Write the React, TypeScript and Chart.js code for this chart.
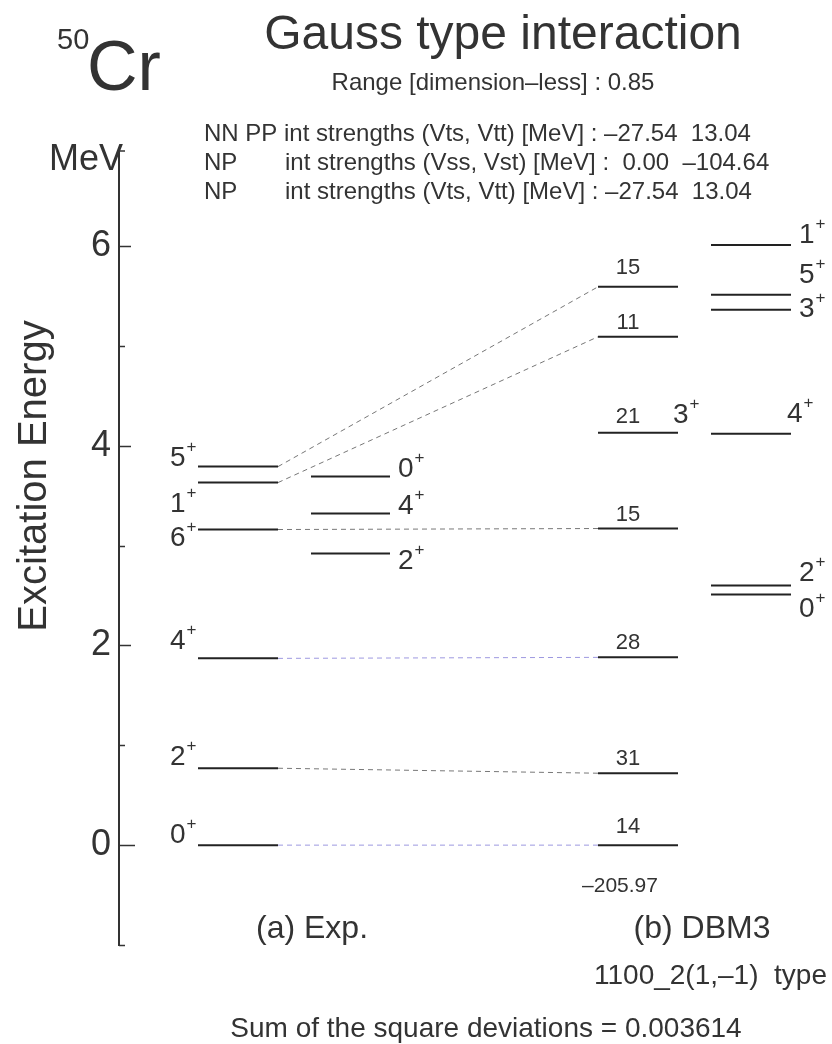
import React, { useEffect, useRef } from "react";
import { Chart, registerables } from "chart.js";

Chart.register(...registerables);

// ---------------- data ----------------
// (a) Exp. — first column (labels on the left)
const expSpins = ["0", "2", "4", "6", "1", "5"];
const expEnergies = [0, 0.77, 1.87, 3.16, 3.63, 3.79];
// (a) Exp. — second column (labels on the right)
const expSpins2 = ["2", "4", "0"];
const expEnergies2 = [2.92, 3.32, 3.69];
// (b) DBM3 — first column (numbers above levels)
const dbmEnergies = [0, 0.72, 1.88, 3.17, 4.13, 5.09, 5.59];
const dbmNumbers = ["14", "31", "28", "15", "21", "11", "15"];
// (b) DBM3 — second column (labels on the right)
const dbmSpins2 = ["0", "2", "4", "3", "5", "1"];
const dbmEnergies2 = [2.51, 2.6, 4.12, 5.36, 5.51, 6.01];
// correspondences exp index -> dbm index
const links = [
  [0, 0],
  [1, 1],
  [2, 2],
  [3, 3],
  [4, 5],
  [5, 6],
];
const yTickValues = [0, 2, 4, 6];

// ---------------- layout ----------------
const W = 832;
const H = 1044;
const FONT = "'Liberation Sans', Arial, Helvetica, sans-serif";
const AXIS_X = 119;
const COL_EXP1: [number, number] = [79, 159];
const COL_EXP2: [number, number] = [192, 271];
const COL_DBM1: [number, number] = [479, 559];
const COL_DBM2: [number, number] = [592, 672];
// label offsets (px) relative to level lines
const expLabelDy = [-2, -3, -9, 16, 29, -1];
const exp2LabelDy = [16, 0, 0];
const dbmNumDy = [-12, -8, -8, -8, -10, -8, -13];
const dbm2LabelDy = [23, -4, -12, 7, -12, -2];
const dbm2LabelDx = [0, 0, -12, 0, 0, 0];

const LEVEL_COLOR = "#222";
const TEXT_COLOR = "#333";
const LINK_COLORS = ["#9d98e0", "#777", "#9d98e0", "#777", "#777", "#777"];

function levelDataset(x: [number, number], e: number) {
  return {
    data: [
      { x: x[0], y: e },
      { x: x[1], y: e },
    ],
    borderColor: LEVEL_COLOR,
    borderWidth: 2,
    pointRadius: 0,
    fill: false,
  };
}

export default function App() {
  const ref = useRef<HTMLCanvasElement | null>(null);

  useEffect(() => {
    const canvas = ref.current;
    if (!canvas) return;
    const datasets: any[] = [];
    expEnergies.forEach((e) => datasets.push(levelDataset(COL_EXP1, e)));
    expEnergies2.forEach((e) => datasets.push(levelDataset(COL_EXP2, e)));
    dbmEnergies.forEach((e) => datasets.push(levelDataset(COL_DBM1, e)));
    dbmEnergies2.forEach((e) => datasets.push(levelDataset(COL_DBM2, e)));
    links.forEach(([a, b], i) =>
      datasets.push({
        data: [
          { x: COL_EXP1[1], y: expEnergies[a] },
          { x: COL_DBM1[0], y: dbmEnergies[b] },
        ],
        borderColor: LINK_COLORS[i],
        borderWidth: 1,
        borderDash: [5, 4],
        pointRadius: 0,
        fill: false,
      })
    );

    const sup = (
      ctx: CanvasRenderingContext2D,
      x: number,
      y: number,
      digit: string,
      size = 28
    ) => {
      ctx.textAlign = "left";
      ctx.textBaseline = "alphabetic";
      ctx.font = `${size}px ${FONT}`;
      ctx.fillText(digit, x, y);
      const w = ctx.measureText(digit).width;
      ctx.font = `${Math.round(size * 0.6)}px ${FONT}`;
      ctx.fillText("+", x + w + 1, y - size * 0.5);
    };

    const textPlugin = {
      id: "levelText",
      afterDraw(chart: any) {
        const ctx: CanvasRenderingContext2D = chart.ctx;
        const ys = chart.scales.y;
        const xs = chart.scales.x;
        ctx.save();
        ctx.fillStyle = TEXT_COLOR;
        ctx.strokeStyle = "#333";
        // inward ticks
        ctx.lineWidth = 1.5;
        for (let v = -1; v <= 6; v++) {
          const py = Math.round(ys.getPixelForValue(v)) + 0.5;
          const len = v === 0 ? 16 : v % 2 === 0 ? 12 : 6;
          ctx.beginPath();
          ctx.moveTo(AXIS_X, py);
          ctx.lineTo(AXIS_X + len, py);
          ctx.stroke();
        }
        const ptop = chart.chartArea.top + 1;
        ctx.beginPath();
        ctx.moveTo(AXIS_X, ptop);
        ctx.lineTo(AXIS_X + 6, ptop);
        ctx.stroke();

        // exp column 1 labels
        expSpins.forEach((s, i) => {
          const py = ys.getPixelForValue(expEnergies[i]);
          sup(ctx, 170, py + expLabelDy[i], s);
        });
        // exp column 2 labels
        expSpins2.forEach((s, i) => {
          const py = ys.getPixelForValue(expEnergies2[i]);
          sup(ctx, xs.getPixelForValue(COL_EXP2[1]) + 8, py + exp2LabelDy[i], s);
        });
        // dbm numbers
        dbmNumbers.forEach((n, i) => {
          const py = ys.getPixelForValue(dbmEnergies[i]);
          const cx = xs.getPixelForValue((COL_DBM1[0] + COL_DBM1[1]) / 2) - 10;
          ctx.font = `22px ${FONT}`;
          ctx.textAlign = "center";
          ctx.fillText(n, cx, py + dbmNumDy[i]);
        });
        // 3+ next to the "21" level
        sup(ctx, xs.getPixelForValue(COL_DBM1[1]) - 5, ys.getPixelForValue(dbmEnergies[4]) - 10, "3");
        // dbm column 2 labels
        dbmSpins2.forEach((s, i) => {
          const py = ys.getPixelForValue(dbmEnergies2[i]);
          sup(ctx, xs.getPixelForValue(COL_DBM2[1]) + 8 + dbm2LabelDx[i], py + dbm2LabelDy[i], s);
        });

        // ground-state energy
        ctx.font = `21px ${FONT}`;
        ctx.textAlign = "center";
        ctx.fillText("\u2013205.97", 620, 892);

        // column titles
        ctx.font = `32px ${FONT}`;
        ctx.fillText("(a) Exp.", 312, 938);
        ctx.fillText("(b) DBM3", 702, 938);
        ctx.font = `28px ${FONT}`;
        ctx.textAlign = "left";
        ctx.fillText("1100_2(1,\u20131)  type", 594, 984);
        ctx.textAlign = "center";
        ctx.fillText("Sum of the square deviations = 0.003614", 486, 1037);

        // header
        ctx.font = `48px ${FONT}`;
        ctx.fillText("Gauss type interaction", 503, 49);
        ctx.font = `24px ${FONT}`;
        ctx.fillText("Range [dimension\u2013less] : 0.85", 493, 90);
        ctx.textAlign = "left";
        ctx.fillText("NN PP int strengths (Vts, Vtt) [MeV] : \u201327.54  13.04", 204, 141);
        ctx.fillText("NP", 204, 170);
        ctx.fillText("int strengths (Vss, Vst) [MeV] :  0.00  \u2013104.64", 285, 170);
        ctx.fillText("NP", 204, 199);
        ctx.fillText("int strengths (Vts, Vtt) [MeV] : \u201327.54  13.04", 285, 199);

        ctx.font = `29px ${FONT}`;
        ctx.fillText("50", 57, 49);
        ctx.font = `70px ${FONT}`;
        ctx.fillText("Cr", 87, 90);

        ctx.font = `36px ${FONT}`;
        ctx.textAlign = "right";
        ctx.fillText("MeV", 123, 170);

        // axis title
        ctx.save();
        ctx.translate(46, 476);
        ctx.rotate(-Math.PI / 2);
        ctx.font = `40px ${FONT}`;
        ctx.textAlign = "center";
        ctx.fillText("Excitation Energy", 0, 0);
        ctx.restore();

        ctx.restore();
      },
    };

    const chart = new Chart(canvas, {
      type: "line",
      data: { datasets },
      options: {
        animation: false,
        responsive: false,
        devicePixelRatio: 1,
        events: [],
        layout: { padding: { top: 150, bottom: 99, left: 0, right: 0 } },
        plugins: {
          legend: { display: false },
          tooltip: { enabled: false },
          title: { display: false },
        },
        scales: {
          x: {
            type: "linear",
            display: false,
            min: 0,
            max: W - AXIS_X,
          },
          y: {
            type: "linear",
            min: -1,
            max: 6.96,
            afterFit: (s: any) => {
              s.width = AXIS_X;
            },
            afterBuildTicks: (s: any) => {
              s.ticks = yTickValues.map((v) => ({ value: v }));
            },
            border: { display: true, color: "#333", width: 2 },
            grid: { display: false, drawTicks: false },
            ticks: {
              padding: 8,
              color: TEXT_COLOR,
              font: { size: 36, family: FONT },
              callback: (v: any) => String(v),
            },
          },
        },
      },
      plugins: [textPlugin],
    } as any);
    return () => chart.destroy();
  }, []);

  return (
    <div style={{ position: "fixed", left: 0, top: 0, width: W, height: H, background: "#fff" }}>
      <canvas ref={ref} width={W} height={H} style={{ display: "block", width: W, height: H }} />
    </div>
  );
}
